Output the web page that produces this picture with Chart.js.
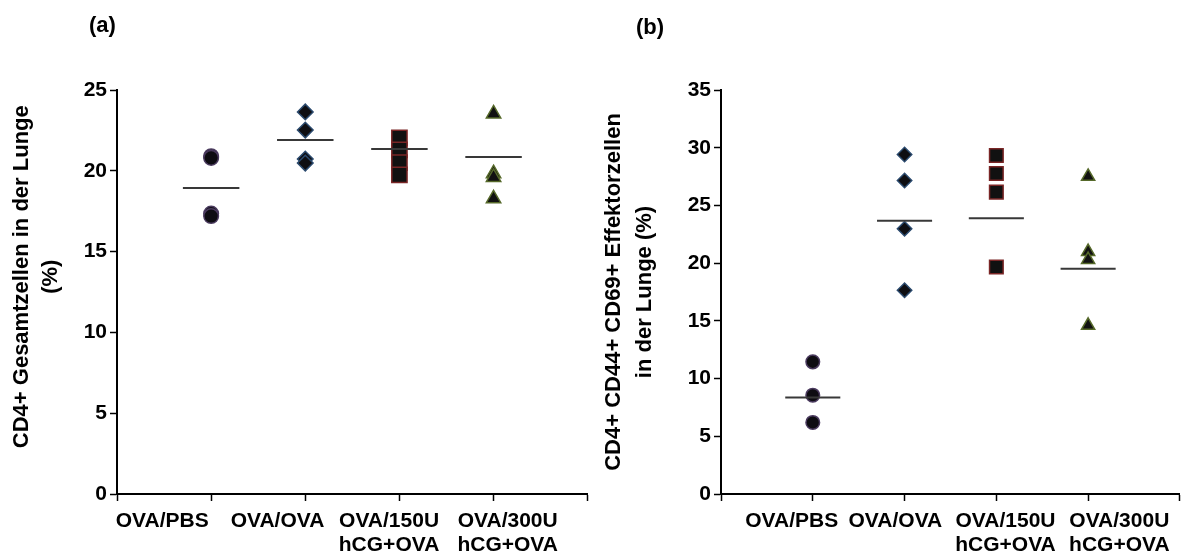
<!DOCTYPE html>
<html>
<head>
<meta charset="utf-8">
<script src="https://cdn.jsdelivr.net/npm/chart.js@4.4.1/dist/chart.umd.min.js"></script>
<style>
html,body{margin:0;padding:0;background:#fff;width:1191px;height:559px;overflow:hidden;}
#wrap{position:relative;width:1191px;height:559px;}
canvas{position:absolute;top:0;}
#ca{left:0;}
#cb{left:580px;}
.pl{position:absolute;font-family:'Liberation Sans',Arial,Helvetica,sans-serif;font-weight:bold;font-size:22px;line-height:25px;color:#000;}
</style>
</head>
<body>
<div id="wrap">
<canvas id="ca" width="600" height="559"></canvas>
<canvas id="cb" width="611" height="559"></canvas>
<div class="pl" style="left:89px;top:12px">(a)</div>
<div class="pl" style="left:636px;top:14px">(b)</div>
</div>
<script>
// ---- data ----
const categories = ['OVA/PBS', 'OVA/OVA', 'OVA/150U hCG+OVA', 'OVA/300U hCG+OVA'];
const categoryLines = [['OVA/PBS'], ['OVA/OVA'], ['OVA/150U', 'hCG+OVA'], ['OVA/300U', 'hCG+OVA']];
const yTicksA = [0, 5, 10, 15, 20, 25];
const yTicksB = [0, 5, 10, 15, 20, 25, 30, 35];

// (a) CD4+ Gesamtzellen in der Lunge (%)
const a_OVA_PBS = [20.9, 20.8, 17.35, 17.2];
const a_OVA_OVA = [23.64, 22.52, 20.73, 20.48];
const a_150U = [22.04, 21.3, 20.5, 19.75];
const a_300U = [23.53, 19.83, 19.6, 18.28];
const a_means = [18.94, 21.9, 21.35, 20.85];

// (b) CD4+ CD44+ CD69+ Effektorzellen in der Lunge (%)
const b_OVA_PBS = [11.45, 8.56, 6.2];
const b_OVA_OVA = [29.41, 27.16, 22.98, 17.65];
const b_150U = [29.33, 27.77, 26.15, 19.66];
const b_300U = [27.5, 21.0, 20.3, 14.6];
const b_means = [8.36, 23.67, 23.9, 19.52];

// ---- styling ----
const FONT = "'Liberation Sans', Arial, Helvetica, sans-serif";
const markers = [
  {style: 'circle',   bg: '#0e0c12', border: '#4a3a5e'},
  {style: 'rectRot',  bg: '#0e0e12', border: '#2b4a6e'},
  {style: 'rect',     bg: '#111111', border: '#7a2626'},
  {style: 'triangle', bg: '#111111', border: '#56692a'}
];

function buildChart(id, groups, means, yTicks, o) {
  const datasets = [];
  means.forEach((m, i) => {
    datasets.push({
      data: [{x: i + 1 - 0.3, y: m}, {x: i + 1 + 0.3, y: m}],
      showLine: true, borderColor: '#383838', borderWidth: 2,
      pointRadius: 0, order: -1, fill: false
    });
  });
  groups.forEach((g, i) => {
    datasets.push({
      data: g.map(v => ({x: i + 1, y: v})),
      showLine: false,
      pointStyle: markers[i].style,
      pointRadius: o.radii[i],
      backgroundColor: markers[i].bg,
      borderColor: markers[i].border,
      borderWidth: 1.5,
      order: 0
    });
  });
  return new Chart(document.getElementById(id), {
    type: 'scatter',
    data: {datasets},
    options: {
      responsive: false, animation: false, devicePixelRatio: 1,
      layout: {padding: {top: 90, right: o.rightPad, bottom: 0, left: 0}},
      plugins: {legend: {display: false}, tooltip: {enabled: false}, title: {display: false}},
      scales: {
        x: {
          type: 'linear', min: 0, max: 5,
          afterBuildTicks: s => {
            const t = [];
            for (let v = 0; v <= 5; v++) t.push({value: v});
            o.labelPos.forEach((p, i) => t.push({value: p, labelIndex: i}));
            t.sort((a, b) => a.value - b.value);
            s.ticks = t;
          },
          afterFit: s => { s.height = 65; },
          ticks: {
            autoSkip: false, maxRotation: 0, minRotation: 0, padding: 8,
            color: '#000',
            font: {family: FONT, size: 21, weight: 'bold', lineHeight: 1.15},
            callback: function (value, index, ticks) {
              const t = ticks[index];
              return (t && t.labelIndex !== undefined) ? categoryLines[t.labelIndex] : '';
            }
          },
          grid: {
            drawOnChartArea: false, drawTicks: true, tickLength: 7, tickWidth: 1.5,
            color: '#000',
            tickColor: c => (c.tick && c.tick.labelIndex !== undefined) ? 'rgba(0,0,0,0)' : '#000'
          },
          border: {display: true, color: '#000', width: 2}
        },
        y: {
          min: 0, max: yTicks[yTicks.length - 1],
          afterBuildTicks: s => { s.ticks = yTicks.map(v => ({value: v})); },
          afterFit: s => { s.width = o.yWidth; },
          ticks: {color: '#000', padding: 3, font: {family: FONT, size: 21, weight: 'bold'}},
          grid: {drawOnChartArea: false, drawTicks: true, tickLength: 7, tickWidth: 1.5, color: '#000', tickColor: '#000'},
          border: {display: true, color: '#000', width: 2},
          title: {
            display: true, text: o.title, color: '#000',
            font: {family: FONT, size: 22, weight: 'bold', lineHeight: o.titleLH},
            padding: {top: o.titlePad, bottom: 0}
          }
        }
      }
    }
  });
}

buildChart('ca', [a_OVA_PBS, a_OVA_OVA, a_150U, a_300U], a_means, yTicksA, {
  yWidth: 117, rightPad: 5,
  labelPos: [0.48, 1.705, 2.89, 4.15],
  radii: [7.3, 7.8, 10.8, 8.3],
  title: ['     CD4+ Gesamtzellen in der Lunge', '     (%)'],
  titleLH: 1.3, titlePad: 8
});

buildChart('cb', [b_OVA_PBS, b_OVA_OVA, b_150U, b_300U], b_means, yTicksB, {
  yWidth: 141, rightPad: 0,
  labelPos: [0.77, 1.90, 3.10, 4.34],
  radii: [6.8, 7.2, 9.6, 7.6],
  title: ['CD4+ CD44+ CD69+ Effektorzellen', 'in der Lunge (%)'],
  titleLH: 1.4, titlePad: 19
});
</script>
</body>
</html>
